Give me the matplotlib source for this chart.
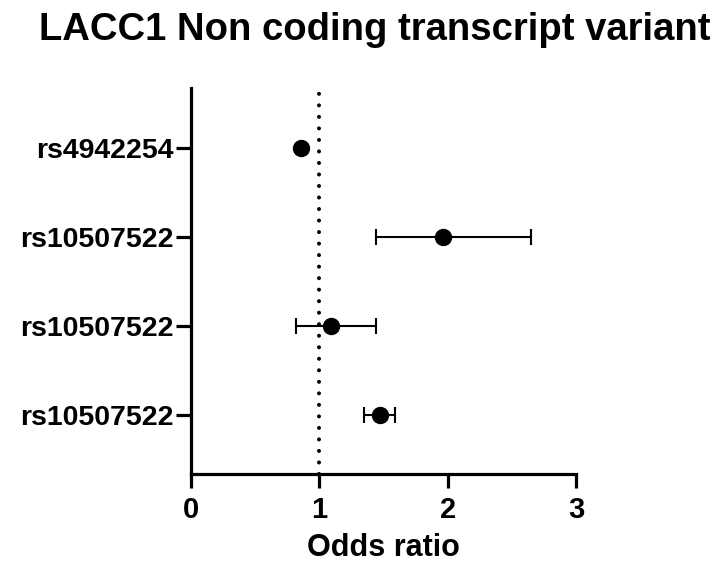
import matplotlib
matplotlib.use('Agg')
import matplotlib.pyplot as plt
import numpy as np

plt.rcParams['font.family'] = ['Liberation Sans', 'DejaVu Sans']
plt.rcParams['font.weight'] = 'bold'

# odds ratios with 95% CI, listed top to bottom
snps = ['rs4942254', 'rs10507522', 'rs10507522', 'rs10507522']
odds = [0.86, 1.96, 1.09, 1.47]
ci_low = [np.nan, 1.44, 0.82, 1.35]
ci_high = [np.nan, 2.65, 1.44, 1.59]

ypos = np.arange(len(snps))[::-1] + 1
odds = np.array(odds); lo = np.array(ci_low); hi = np.array(ci_high)

fig = plt.figure(figsize=(7.15, 5.74), dpi=100)
ax = fig.add_axes([0.267, 0.174, 0.539, 0.673])

# reference line at OR = 1 (round dots)
ax.axvline(1, color='black', lw=2.9, ls=(0, (0.01, 2.85)), dash_capstyle='round', zorder=1)

has_ci = ~np.isnan(lo)
ax.errorbar(odds[has_ci], ypos[has_ci],
            xerr=[odds[has_ci] - lo[has_ci], hi[has_ci] - odds[has_ci]],
            fmt='none', ecolor='black', elinewidth=1.5, capsize=6, capthick=1.5, zorder=2)
ax.plot(odds, ypos, 'o', color='black', ms=11.5, zorder=3)

ax.set_xlim(0, 3)
ax.set_ylim(0.34, 4.68)
ax.set_xticks([0, 1, 2, 3])
ax.set_yticks(ypos)
ax.set_yticklabels(snps)

for side in ['top', 'right']:
    ax.spines[side].set_visible(False)
for side in ['left', 'bottom']:
    ax.spines[side].set_linewidth(2.3)

ax.tick_params(axis='x', length=10, width=2.3, labelsize=21, pad=6)
ax.tick_params(axis='y', length=10.5, width=2.3, labelsize=20.5, pad=2)
for lab in ax.get_xticklabels() + ax.get_yticklabels():
    lab.set_fontweight('bold')

ax.set_xlabel('Odds ratio', fontsize=22, fontweight='bold', labelpad=6)
fig.text(375 / 715, 1 - 30 / 574, 'LACC1 Non coding transcript variant',
         fontsize=27.5, fontweight='bold', ha='center', va='center')

fig.savefig('out.png', dpi=100, facecolor='white')
